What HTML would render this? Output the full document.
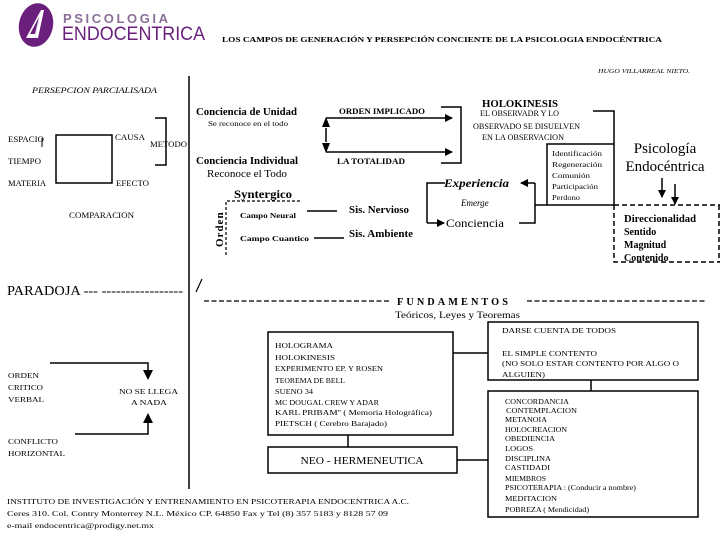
<!DOCTYPE html>
<html><head><meta charset="utf-8"><style>
html,body{margin:0;padding:0;background:#fff;}
svg{display:block;}
text{font-family:"Liberation Serif",serif;fill:#000;}
.s{font-size:8px;}
.sans{font-family:"Liberation Sans",sans-serif;}
</style></head><body>
<svg width="720" height="540" viewBox="0 0 720 540" xmlns="http://www.w3.org/2000/svg">
<defs>
<marker id="a" markerWidth="8" markerHeight="8" refX="7" refY="4" orient="auto" markerUnits="userSpaceOnUse"><path d="M0,0 L8,4 L0,8 z" fill="#000"/></marker>
</defs>
<g stroke="#000" fill="none" stroke-width="1.5">
<ellipse cx="36" cy="25" rx="17" ry="22" transform="rotate(12 36 25)" fill="#6b1f7c" stroke="none"/>
<path d="M41,10 L35,38 L26,38 Z" fill="#fff" stroke="none"/>
<path d="M39,17 L35,34 L30,34 Z" fill="#6b1f7c" stroke="none"/>
<path d="M41,10 L44,10 L38,38 L35,38 Z" fill="#fff" stroke="none"/>
<line x1="189" y1="76" x2="189" y2="489"/>
<line x1="196" y1="292" x2="202" y2="279" stroke-width="1.2"/>
<rect x="56" y="135" width="56" height="48"/>
<polyline points="155,118 166,118 166,165 155,165"/>
<line x1="42" y1="138" x2="42" y2="147" stroke-width="1"/>
<line x1="326" y1="118" x2="452" y2="118" marker-end="url(#a)"/>
<line x1="326" y1="152" x2="452" y2="152" marker-end="url(#a)"/>
<line x1="326" y1="128" x2="326" y2="142"/>
<path d="M326,117 L322,127 L330,127 Z M326,153 L322,143 L330,143 Z" fill="#000" stroke="none"/>
<polyline points="441,107 461,107 461,163 441,163"/>
<polyline points="593,111 614,111 614,205"/>
<polyline points="547,205 547,144 614,144"/>
<line x1="535" y1="205" x2="614" y2="205"/>
<line x1="614" y1="205" x2="720" y2="205" stroke-dasharray="5,3"/>
<polyline points="614,205 614,262 720,262" stroke-dasharray="5,3"/>
<line x1="719" y1="205" x2="719" y2="262" stroke-dasharray="5,3"/>
<line x1="662" y1="178" x2="662" y2="197" marker-end="url(#a)"/>
<line x1="675" y1="184" x2="675" y2="204" marker-end="url(#a)"/>
<polyline points="519,223 535,223 535,183"/>
<line x1="535" y1="183" x2="521" y2="183" marker-end="url(#a)"/>
<polyline points="445,183 427,183 427,223"/>
<line x1="427" y1="223" x2="444" y2="223" marker-end="url(#a)"/>
<polyline points="226,255 226,201 300,201" stroke-dasharray="3,2" stroke-width="1.2"/>
<line x1="307" y1="211" x2="337" y2="211"/>
<line x1="314" y1="238" x2="344" y2="238"/>
<line x1="204" y1="301" x2="390" y2="301" stroke-dasharray="5,2.5" stroke-width="1.2"/>
<line x1="527" y1="301" x2="705" y2="301" stroke-dasharray="5,2.5" stroke-width="1.2"/>
<rect x="268" y="332" width="185" height="103"/>
<rect x="268" y="447" width="189" height="26"/>
<line x1="348" y1="435" x2="348" y2="447"/>
<rect x="488" y="322" width="210" height="58"/>
<rect x="488" y="391" width="210" height="126"/>
<line x1="453" y1="353" x2="488" y2="353"/>
<line x1="591" y1="380" x2="591" y2="391"/>
<line x1="457" y1="460" x2="488" y2="460"/>
<polyline points="50,363 148,363 148,371"/>
<path d="M143,370 L153,370 L148,380 Z" fill="#000" stroke="none"/>
<polyline points="75,434 148,434 148,423"/>
<path d="M143,423 L153,423 L148,413 Z" fill="#000" stroke="none"/>
</g>
<text x="63" y="23" class="sans" font-size="13" letter-spacing="2.6" style="fill:#8a6f96;font-weight:bold">PSICOLOGIA</text>
<text x="62" y="40" class="sans" font-size="19" textLength="143" lengthAdjust="spacingAndGlyphs" style="fill:#6b1f7c">ENDOCENTRICA</text>
<text x="222" y="42" font-size="7.5" font-weight="bold" textLength="440" lengthAdjust="spacingAndGlyphs">LOS CAMPOS DE GENERACIÓN Y PERSEPCIÓN CONCIENTE DE LA PSICOLOGIA  ENDOCÉNTRICA</text>
<text x="598" y="73" font-size="6.5" font-style="italic" textLength="92" lengthAdjust="spacingAndGlyphs">HUGO VILLARREAL NIETO.</text>
<text x="32" y="93" font-size="8" font-style="italic" textLength="125" lengthAdjust="spacingAndGlyphs">PERSEPCION PARCIALISADA</text>
<g class="s" font-size="8">
<text x="8" y="142" textLength="36" lengthAdjust="spacingAndGlyphs">ESPACIO</text>
<text x="8" y="164" textLength="33" lengthAdjust="spacingAndGlyphs">TIEMPO</text>
<text x="8" y="186" textLength="38" lengthAdjust="spacingAndGlyphs">MATERIA</text>
<text x="115" y="140" textLength="30" lengthAdjust="spacingAndGlyphs">CAUSA</text>
<text x="116" y="186" textLength="33" lengthAdjust="spacingAndGlyphs">EFECTO</text>
<text x="150" y="147" textLength="37" lengthAdjust="spacingAndGlyphs">METODO</text>
<text x="69" y="218" textLength="65" lengthAdjust="spacingAndGlyphs">COMPARACION</text>
<text x="339" y="114" font-weight="bold" textLength="86" lengthAdjust="spacingAndGlyphs">ORDEN IMPLICADO</text>
<text x="337" y="164" font-weight="bold" textLength="68" lengthAdjust="spacingAndGlyphs">LA TOTALIDAD</text>
<text x="480" y="116" textLength="79" lengthAdjust="spacingAndGlyphs">EL OBSERVADR Y LO</text>
<text x="473" y="129" textLength="107" lengthAdjust="spacingAndGlyphs">OBSERVADO SE DISUELVEN</text>
<text x="482" y="140" textLength="82" lengthAdjust="spacingAndGlyphs">EN LA OBSERVACION</text>
<text x="208" y="126" font-size="7" textLength="80" lengthAdjust="spacingAndGlyphs">Se reconoce en el todo</text>
</g>
<text x="196" y="115" font-size="11" font-weight="bold" textLength="101" lengthAdjust="spacingAndGlyphs">Conciencia de Unidad</text>
<text x="196" y="164" font-size="11" font-weight="bold" textLength="102" lengthAdjust="spacingAndGlyphs">Conciencia Individual</text>
<text x="207" y="177" font-size="10.5" textLength="80" lengthAdjust="spacingAndGlyphs">Reconoce el Todo</text>
<text x="482" y="107" font-size="11" font-weight="bold" textLength="76" lengthAdjust="spacingAndGlyphs">HOLOKINESIS</text>
<g font-size="7.5">
<text x="552" y="156" textLength="50" lengthAdjust="spacingAndGlyphs">Identificación</text>
<text x="552" y="167" textLength="50" lengthAdjust="spacingAndGlyphs">Regeneración</text>
<text x="552" y="178" textLength="38" lengthAdjust="spacingAndGlyphs">Comunión</text>
<text x="552" y="189" textLength="46" lengthAdjust="spacingAndGlyphs">Participación</text>
<text x="552" y="200" textLength="28" lengthAdjust="spacingAndGlyphs">Perdono</text>
</g>
<text x="665" y="153" font-size="15" text-anchor="middle">Psicología</text>
<text x="665" y="171" font-size="15" text-anchor="middle">Endocéntrica</text>
<g font-size="10" font-weight="bold">
<text x="624" y="222" textLength="72" lengthAdjust="spacingAndGlyphs">Direccionalidad</text>
<text x="624" y="235">Sentido</text>
<text x="624" y="248">Magnitud</text>
<text x="624" y="261">Contenido</text>
</g>
<text x="444" y="187" font-size="12" font-weight="bold" font-style="italic" textLength="65" lengthAdjust="spacingAndGlyphs">Experiencia</text>
<text x="461" y="206" font-size="9" font-style="italic">Emerge</text>
<text x="446" y="227" font-size="12" textLength="58" lengthAdjust="spacingAndGlyphs">Conciencia</text>
<text x="234" y="198" font-size="12" font-weight="bold" textLength="58" lengthAdjust="spacingAndGlyphs">Syntergico</text>
<text x="223" y="247" font-size="11" font-weight="bold" transform="rotate(-90 223 247)" letter-spacing="1">Orden</text>
<text x="240" y="218" font-size="7.5" font-weight="bold" textLength="56" lengthAdjust="spacingAndGlyphs">Campo Neural</text>
<text x="240" y="241" font-size="7.5" font-weight="bold" textLength="69" lengthAdjust="spacingAndGlyphs">Campo   Cuantico</text>
<text x="349" y="213" font-size="10" font-weight="bold" textLength="60" lengthAdjust="spacingAndGlyphs">Sis. Nervioso</text>
<text x="349" y="237" font-size="10" font-weight="bold" textLength="64" lengthAdjust="spacingAndGlyphs">Sis. Ambiente</text>
<text x="7" y="295" font-size="14" textLength="176" lengthAdjust="spacingAndGlyphs">PARADOJA --- -----------------</text>
<text x="397" y="305" font-size="10" font-weight="bold" letter-spacing="3" textLength="114" lengthAdjust="spacingAndGlyphs">FUNDAMENTOS</text>
<text x="395" y="318" font-size="9.5" textLength="125" lengthAdjust="spacingAndGlyphs">Teóricos, Leyes y  Teoremas</text>
<g font-size="7.5">
<text x="275" y="348" textLength="58" lengthAdjust="spacingAndGlyphs">HOLOGRAMA</text>
<text x="275" y="360" textLength="60" lengthAdjust="spacingAndGlyphs">HOLOKINESIS</text>
<text x="275" y="371" textLength="108" lengthAdjust="spacingAndGlyphs">EXPERIMENTO EP. Y ROSEN</text>
<text x="275" y="383" textLength="70" lengthAdjust="spacingAndGlyphs">TEOREMA DE BELL</text>
<text x="275" y="394" textLength="38" lengthAdjust="spacingAndGlyphs">SUENO 34</text>
<text x="275" y="405" textLength="104" lengthAdjust="spacingAndGlyphs">MC DOUGAL CREW Y ADAR</text>
<text x="275" y="415" textLength="157" lengthAdjust="spacingAndGlyphs">KARL PRIBAM'' ( Memoria Holográfica)</text>
<text x="275" y="426" textLength="112" lengthAdjust="spacingAndGlyphs">PIETSCH ( Cerebro  Barajado)</text>
<text x="502" y="333" textLength="114" lengthAdjust="spacingAndGlyphs">DARSE CUENTA DE TODOS</text>
<text x="502" y="356" textLength="95" lengthAdjust="spacingAndGlyphs">EL SIMPLE CONTENTO</text>
<text x="502" y="366" textLength="177" lengthAdjust="spacingAndGlyphs">(NO SOLO ESTAR CONTENTO POR ALGO O</text>
<text x="502" y="377" textLength="43" lengthAdjust="spacingAndGlyphs">ALGUIEN)</text>
<text x="505" y="404" textLength="64" lengthAdjust="spacingAndGlyphs">CONCORDANCIA</text>
<text x="506" y="413" textLength="71" lengthAdjust="spacingAndGlyphs">CONTEMPLACION</text>
<text x="505" y="422" textLength="42" lengthAdjust="spacingAndGlyphs">METANOIA</text>
<text x="505" y="432" textLength="62" lengthAdjust="spacingAndGlyphs">HOLOCREACION</text>
<text x="505" y="441" textLength="50" lengthAdjust="spacingAndGlyphs">OBEDIENCIA</text>
<text x="505" y="451" textLength="28" lengthAdjust="spacingAndGlyphs">LOGOS</text>
<text x="505" y="461" textLength="46" lengthAdjust="spacingAndGlyphs">DISCIPLINA</text>
<text x="505" y="470" textLength="45" lengthAdjust="spacingAndGlyphs">CASTIDADI</text>
<text x="505" y="481" textLength="41" lengthAdjust="spacingAndGlyphs">MIEMBROS</text>
<text x="505" y="490" textLength="131" lengthAdjust="spacingAndGlyphs">PSICOTERAPIA : (Conducir a  nombre)</text>
<text x="505" y="501" textLength="52" lengthAdjust="spacingAndGlyphs">MEDITACION</text>
<text x="505" y="512" textLength="84" lengthAdjust="spacingAndGlyphs">POBREZA ( Mendicidad)</text>
<text x="8" y="378" textLength="31" lengthAdjust="spacingAndGlyphs">ORDEN</text>
<text x="8" y="390" textLength="35" lengthAdjust="spacingAndGlyphs">CRITICO</text>
<text x="8" y="402" textLength="36" lengthAdjust="spacingAndGlyphs">VERBAL</text>
<text x="8" y="444" textLength="50" lengthAdjust="spacingAndGlyphs">CONFLICTO</text>
<text x="8" y="456" textLength="57" lengthAdjust="spacingAndGlyphs">HORIZONTAL</text>
<text x="119" y="394" textLength="59" lengthAdjust="spacingAndGlyphs">NO SE LLEGA</text>
<text x="131" y="405" textLength="36" lengthAdjust="spacingAndGlyphs">A NADA</text>
</g>
<text x="362" y="464" font-size="10.5" text-anchor="middle" textLength="123" lengthAdjust="spacingAndGlyphs">NEO -  HERMENEUTICA</text>
<g class="sans" font-size="7.5">
<text x="7" y="504" textLength="402" lengthAdjust="spacingAndGlyphs">INSTITUTO DE INVESTIGACIÓN Y ENTRENAMIENTO EN PSICOTERAPIA ENDOCENTRICA A.C.</text>
<text x="7" y="516" textLength="381" lengthAdjust="spacingAndGlyphs">Ceres 310. Col. Contry Monterrey N.L. México CP. 64850 Fax y Tel (8) 357 5183 y 8128 57 09</text>
<text x="7" y="528" textLength="147" lengthAdjust="spacingAndGlyphs">e-mail endocentrica@prodigy.net.mx</text>
</g>
</svg>
</body></html>
